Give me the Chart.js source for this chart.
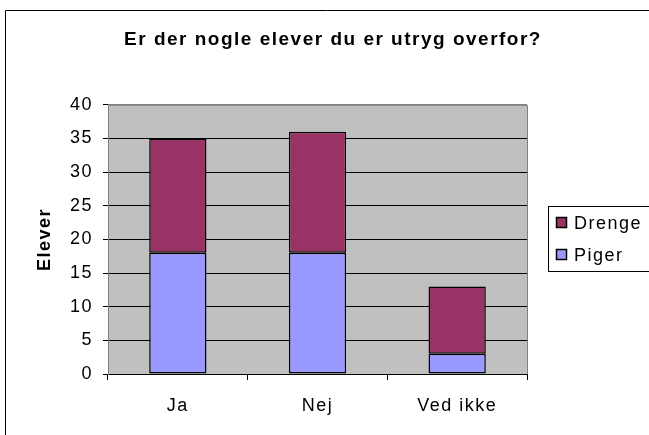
<!DOCTYPE html>
<html>
<head>
<meta charset="utf-8">
<script src="https://cdn.jsdelivr.net/npm/chart.js@4"></script>
<style>
  html, body { margin: 0; padding: 0; background: #fff; overflow: hidden; }
  #wrap { width: 649px; height: 435px; position: relative; }
</style>
</head>
<body>
<div id="wrap"><canvas id="myChart" width="649" height="435"></canvas></div>
<script>
// data
const kategorier = ["Ja", "Nej", "Ved ikke"];
const piger = [18, 18, 3];
const drenge = [17, 18, 10];
const yTicks = [0, 5, 10, 15, 20, 25, 30, 35, 40];

const fontFam = "'Liberation Sans', Arial, sans-serif";
const spacing = "1.5px"; // the old excel text is spread out a bit

// fills the grey plot area, draws the outer frame and the boxed legend
const excelLook = {
  id: "excelLook",
  beforeLayout(chart) {
    chart.ctx.letterSpacing = spacing;
  },
  beforeDraw(chart) {
    const { ctx, chartArea: a } = chart;
    ctx.letterSpacing = spacing;
    ctx.save();
    ctx.fillStyle = "#fff";
    ctx.fillRect(0, 0, chart.width, chart.height);
    ctx.fillStyle = "#C0C0C0";
    ctx.fillRect(a.left, a.top, a.right - a.left, a.bottom - a.top);
    // outer frame (only top and left are inside the picture)
    ctx.strokeStyle = "#000";
    ctx.lineWidth = 1;
    ctx.beginPath();
    ctx.moveTo(5.5, chart.height + 5);
    ctx.lineTo(5.5, 10.5);
    ctx.lineTo(chart.width + 5, 10.5);
    ctx.stroke();
    ctx.restore();
  },
  afterDraw(chart) {
    const { ctx, chartArea: a } = chart;
    ctx.save();
    // grey border of plot area at top and right
    ctx.strokeStyle = "#808080";
    ctx.lineWidth = 1;
    ctx.beginPath();
    ctx.moveTo(a.left + 0.5, a.top + 0.5);
    ctx.lineTo(a.right + 0.5, a.top + 0.5);
    ctx.lineTo(a.right + 0.5, a.bottom);
    ctx.stroke();

    // legend box
    ctx.strokeStyle = "#000";
    ctx.strokeRect(548.5, 206.5, 110, 65);
    const items = chart.data.datasets.slice().reverse();
    ctx.font = "18px " + fontFam;
    ctx.textBaseline = "middle";
    items.forEach((ds, i) => {
      const cy = 223 + i * 32;
      ctx.fillStyle = ds.backgroundColor;
      ctx.fillRect(556.5, cy - 5.5, 10, 10);
      ctx.strokeStyle = "#000";
      ctx.lineWidth = 1.5;
      ctx.strokeRect(556.5, cy - 5.5, 10, 10);
      ctx.fillStyle = "#000";
      ctx.fillText(ds.label, 574, cy + 1);
    });
    ctx.restore();
  }
};

const config = {
  type: "bar",
  data: {
    labels: kategorier,
    datasets: [
      {
        label: "Piger",
        data: piger,
        backgroundColor: "#9999FF",
        borderColor: "#000",
        borderWidth: 1.5,
        borderSkipped: false
      },
      {
        label: "Drenge",
        data: drenge,
        backgroundColor: "#993366",
        borderColor: "#000",
        borderWidth: 1.5,
        borderSkipped: false
      }
    ]
  },
  options: {
    responsive: false,
    animation: false,
    events: [],
    layout: { padding: { left: 17, right: 0, top: 0, bottom: 0 } },
    datasets: { bar: { categoryPercentage: 1, barPercentage: 0.41 } },
    plugins: {
      legend: { display: false },
      tooltip: { enabled: false },
      title: {
        display: true,
        text: "Er der nogle elever du er utryg overfor?",
        color: "#000",
        font: { family: fontFam, size: 19, weight: "bold" },
        padding: { top: 28, bottom: 54 }
      }
    },
    scales: {
      x: {
        stacked: true,
        grid: {
          offset: true,
          drawOnChartArea: false,
          drawTicks: true,
          tickLength: 6,
          color: "#000"
        },
        border: { color: "#000", width: 1 },
        ticks: {
          color: "#000",
          padding: 15,
          font: { family: fontFam, size: 18 }
        },
        afterFit(scale) { scale.height = 61; }
      },
      y: {
        stacked: true,
        min: 0,
        max: 40,
        afterBuildTicks(scale) { scale.ticks = yTicks.map(v => ({ value: v })); },
        grid: {
          color: (c) => (c.tick && c.tick.value === 40 ? "#808080" : "#000"),
          tickColor: "#000",
          tickLength: 5
        },
        border: { color: "#808080", width: 1 },
        ticks: {
          color: "#000",
          padding: 10,
          font: { family: fontFam, size: 18 }
        },
        title: {
          display: true,
          text: "Elever",
          color: "#000",
          font: { family: fontFam, size: 18, weight: "bold" },
          padding: { top: 17, bottom: 0 }
        },
        afterFit(scale) { scale.width = 91; }
      },
      // empty axis on the right, it only keeps room for the legend
      r: {
        position: "right",
        grid: { display: false },
        border: { display: false },
        ticks: { display: false },
        afterFit(scale) { scale.width = 122; }
      }
    }
  },
  plugins: [excelLook]
};

const myChart = new Chart(document.getElementById("myChart"), config);
</script>
</body>
</html>
